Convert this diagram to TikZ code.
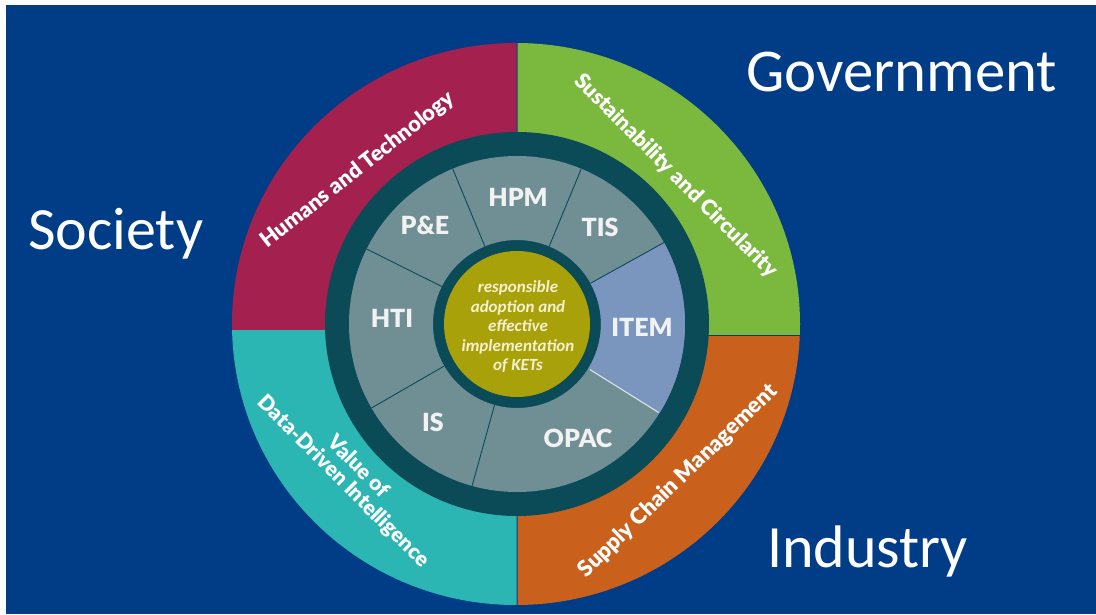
\documentclass[tikz,border=0pt]{standalone}
\usepackage{fontspec}
\setmainfont{Carlito}
\newfontfamily\ringfont{Lato Black}
\usetikzlibrary{calc}

\definecolor{bgblue}{RGB}{1,61,134}
\definecolor{humred}{RGB}{163,32,79}
\definecolor{susgreen}{RGB}{122,184,62}
\definecolor{supplyorange}{RGB}{201,97,28}
\definecolor{datateal}{RGB}{43,182,180}
\definecolor{ringdark}{RGB}{11,74,87}
\definecolor{segslate}{RGB}{111,143,149}
\definecolor{itemblue}{RGB}{122,150,191}
\definecolor{coreolive}{RGB}{169,161,10}
\definecolor{corecream}{RGB}{245,240,208}

\tikzset{
  bigword/.style={text=white, inner sep=0pt, anchor=base west},
  arclabel/.style={text=white, inner sep=0pt, font=\ringfont},
  seglabel/.style={text=white!95!black, inner sep=0pt, font=\ringfont\fontsize{25}{28}\selectfont},
  divider/.style={ringdark, line width=0.9pt},
  lightdivider/.style={white!75!segslate, line width=1.1pt},
}

\begin{document}
\begin{tikzpicture}[x=1pt,y=1pt]
  \useasboundingbox (0,0) rectangle (1096,614);
  \fill[white] (0,0) rectangle (1096,614);
  \fill[bgblue] (6,0) rectangle (1096,609);

  \coordinate (C) at (517,290);
  \coordinate (O) at (516,290);

  % outer quadrants
  \begin{scope}
    \clip (0,284.5) rectangle (516.6,614);
    \fill[humred] (O) ellipse [x radius=284, y radius=281];
  \end{scope}
  \begin{scope}
    \clip (517.6,279) rectangle (1096,614);
    \fill[susgreen] (O) ellipse [x radius=284, y radius=281];
  \end{scope}
  \begin{scope}
    \clip (517.6,0) rectangle (1096,277);
    \fill[supplyorange] (O) ellipse [x radius=284, y radius=281];
  \end{scope}
  \begin{scope}
    \clip (0,0) rectangle (516.6,283.6);
    \fill[datateal] (O) ellipse [x radius=284, y radius=281];
  \end{scope}

  % dark ring and segment ring
  \fill[ringdark] (C) circle (192);
  \fill[segslate, even odd rule] (C) circle (168) (C) circle (84);
  \fill[itemblue] ($(C)+(-32:84)$) -- ($(C)+(-32:168)$)
     arc[start angle=-32, end angle=29, radius=168]
     -- ($(C)+(29:84)$) arc[start angle=29, end angle=-32, radius=84] -- cycle;
  \foreach \a in {29,67.5,112.5,153.5,210,254.5}
    \draw[divider] ($(C)+(\a:84)$) -- ($(C)+(\a:168)$);
  \draw[lightdivider] ($(C)+(-32:86)$) -- ($(C)+(-32:167)$);
  \fill[coreolive] (C) circle (73);

  % segment labels
  \node[seglabel] (hpm)  at (518,417) {HPM};
  \node[seglabel] (pe)   at (425,389) {P\&E};
  \node[seglabel] (tis)  at (600,387) {TIS};
  \node[seglabel] (hti)  at (392,296) {HTI};
  \node[seglabel] (item) at (642,287) {ITEM};
  \node[seglabel] (is)   at (433,192) {IS};
  \node[seglabel] (opac) at (578,176) {OPAC};

  % core statement
  \node[text=corecream, align=center, inner sep=0pt,
        font=\bfseries\itshape\fontsize{17}{19.5}\selectfont] (core) at (518,287)
    {responsible\\adoption and\\effective\\implementation\\of KETs};

  % quadrant titles
  \node[arclabel, rotate=38] (humans) at (358,444)
    {\resizebox{239pt}{!}{Humans and Technology}};
  \node[arclabel, rotate=-45] (sust) at (676,438)
    {\resizebox{278pt}{!}{Sustainability and Circularity}};
  \node[arclabel, rotate=44] (supply) at (678,133)
    {\resizebox{267pt}{!}{Supply Chain Management}};
  \node[arclabel, rotate=-45, align=center] (value) at (350,139)
    {\resizebox{233pt}{!}{\begin{tabular}{@{}c@{}}Value of\\[-2pt]Data-Driven Intelligence\end{tabular}}};

  % stakeholder words
  \node[bigword] (society) at (28,364)
    {\resizebox{175pt}{!}{\fontsize{60}{60}\selectfont Society}};
  \node[bigword] (gov) at (746,522)
    {\resizebox{311pt}{!}{\fontsize{60}{60}\selectfont Government}};
  \node[bigword] (industry) at (767,47)
    {\resizebox{201pt}{!}{\fontsize{60}{60}\selectfont Industry}};
\end{tikzpicture}
\end{document}
